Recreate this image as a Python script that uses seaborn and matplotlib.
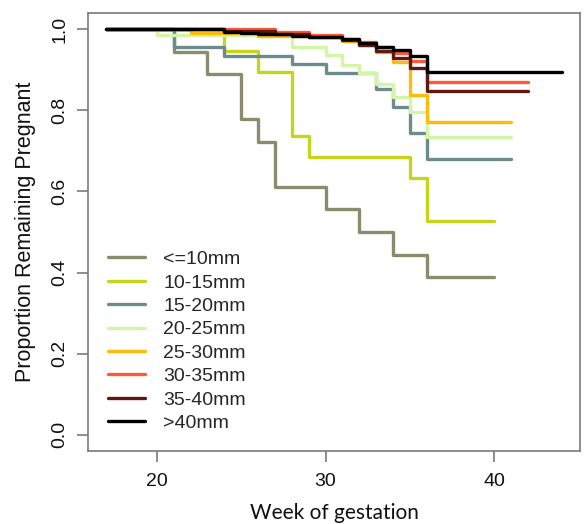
import numpy as np
import pandas as pd
import matplotlib
matplotlib.use('Agg')
import matplotlib.pyplot as plt
import seaborn as sns

# groups (size categories) and their colours
groups = ['<=10mm', '10-15mm', '15-20mm', '20-25mm', '25-30mm', '30-35mm', '35-40mm', '>40mm']
colors = ['#8b8c6d', '#c6d41c', '#6c8b8c', '#d3f5a6', '#ffba10', '#ff5a38', '#5c1b12', '#000000']

# step curves: week of change -> proportion after it
wk_le10 = [17, 21, 23, 25, 26, 27, 30, 32, 34, 36, 40]
pr_le10 = [1.0, 0.944, 0.889, 0.778, 0.722, 0.611, 0.556, 0.500, 0.444, 0.389, 0.389]

wk_10_15 = [17, 24, 26, 28, 29, 35, 36, 40]
pr_10_15 = [1.0, 0.947, 0.895, 0.737, 0.684, 0.632, 0.526, 0.526]

wk_15_20 = [17, 21, 24, 28, 30, 33, 34, 35, 36, 41]
pr_15_20 = [1.0, 0.957, 0.935, 0.914, 0.891, 0.853, 0.807, 0.743, 0.680, 0.680]

wk_20_25 = [17, 20, 28, 30, 31, 32, 33, 34, 35, 36, 41]
pr_20_25 = [1.0, 0.986, 0.957, 0.936, 0.913, 0.891, 0.866, 0.834, 0.796, 0.735, 0.735]

wk_25_30 = [17, 22, 26, 31, 32, 33, 34, 35, 36, 41]
pr_25_30 = [1.0, 0.990, 0.983, 0.972, 0.962, 0.945, 0.918, 0.839, 0.771, 0.771]

wk_30_35 = [17, 27, 29, 31, 32, 33, 34, 35, 36, 42]
pr_30_35 = [1.0, 0.993, 0.985, 0.976, 0.968, 0.957, 0.941, 0.922, 0.871, 0.871]

wk_35_40 = [17, 24, 27, 29, 31, 32, 33, 34, 35, 36, 42]
pr_35_40 = [1.0, 0.995, 0.988, 0.982, 0.973, 0.962, 0.946, 0.928, 0.904, 0.848, 0.848]

wk_gt40 = [17, 24, 25, 26, 28, 29, 31, 32, 33, 34, 35, 36, 44]
pr_gt40 = [1.0, 0.994, 0.990, 0.987, 0.984, 0.980, 0.975, 0.965, 0.955, 0.948, 0.933, 0.894, 0.894]

weeks = [wk_le10, wk_10_15, wk_15_20, wk_20_25, wk_25_30, wk_30_35, wk_35_40, wk_gt40]
props = [pr_le10, pr_10_15, pr_15_20, pr_20_25, pr_25_30, pr_30_35, pr_35_40, pr_gt40]

frames = []
for g, w, p in zip(groups, weeks, props):
    frames.append(pd.DataFrame({'group': g, 'week': w, 'prop': p}))
df = pd.concat(frames, ignore_index=True)

sns.set_style('white')
plt.rcParams['font.family'] = ['Liberation Sans', 'DejaVu Sans']

fig = plt.figure(figsize=(5.85, 5.24), dpi=100)
ax = fig.add_axes([88 / 585, 1 - 451 / 524, 492 / 585, 438 / 524])

sns.lineplot(data=df, x='week', y='prop', hue='group', hue_order=groups,
             palette=colors, estimator=None, sort=False, drawstyle='steps-post',
             linewidth=2.4, ax=ax)

ax.set_xlim(15.92, 45.08)
ax.set_ylim(-0.04, 1.04)
ax.set_xticks([20, 30, 40])
ax.set_yticks([0.0, 0.2, 0.4, 0.6, 0.8, 1.0])
ax.set_yticklabels(['0.0', '0.2', '0.4', '0.6', '0.8', '1.0'], rotation=90, va='center')

for s in ax.spines.values():
    s.set_color('#7a7a7a')
    s.set_linewidth(1.2)
ax.tick_params(axis='both', direction='out', length=8, width=1.2, color='#7a7a7a',
               bottom=True, left=True, labelsize=14, labelcolor='#111111')
ax.tick_params(axis='x', pad=8)
ax.tick_params(axis='y', pad=6)

ax.set_ylabel('Proportion Remaining Pregnant', fontsize=15.5, labelpad=11, color='#111111')
ax.set_xlabel('Week of gestation', fontsize=15, labelpad=9, color='#111111',
              family=['Lato', 'DejaVu Sans'])

handles, labels = ax.get_legend_handles_labels()
ax.legend(handles, labels, loc='lower left', bbox_to_anchor=(0.005, 0.003), frameon=False,
          fontsize=14, handlelength=1.9, handletextpad=0.95, labelspacing=0.3)

fig.savefig('out.png', dpi=100)
